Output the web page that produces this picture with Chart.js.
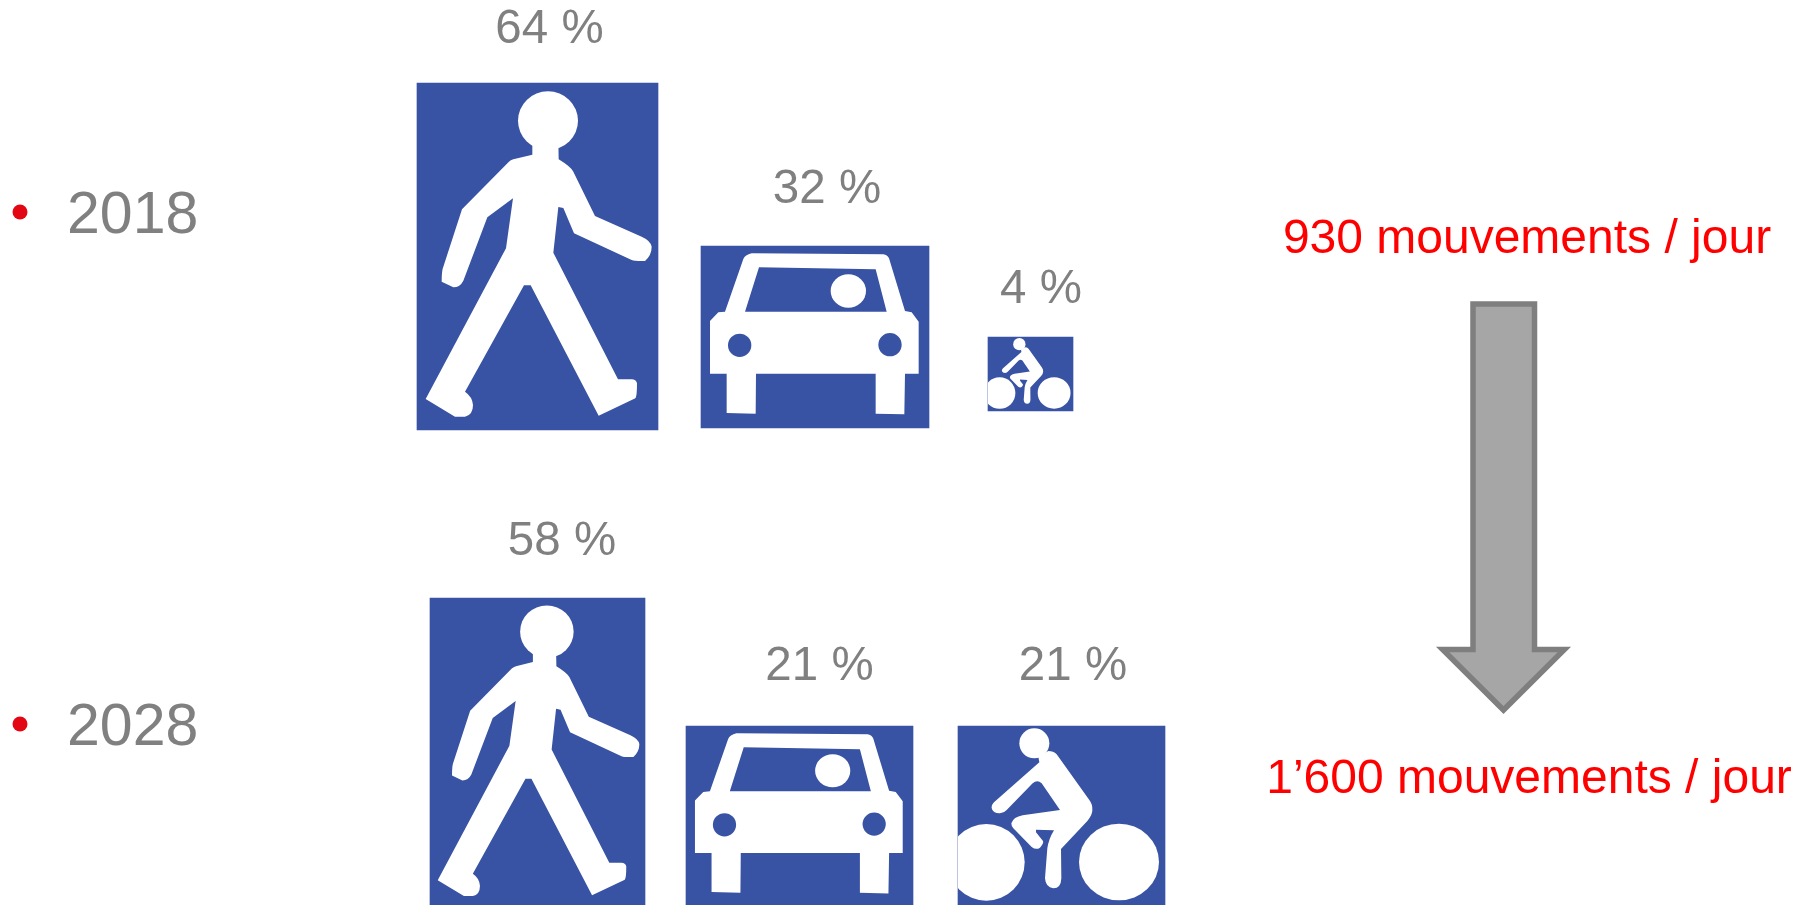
<!DOCTYPE html>
<html lang="fr">
<head>
<meta charset="utf-8">
<title>Mouvements par jour 2018 / 2028</title>
<script src="https://cdn.jsdelivr.net/npm/chart.js@4"></script>
<style>
  html, body { margin: 0; padding: 0; background: #fff; overflow: hidden; }
  canvas { display: block; }
</style>
</head>
<body>
<canvas id="chart" width="1810" height="905"></canvas>
<script>
/* Données */
const years = ['2018', '2028'];
const modes = ['walker', 'car', 'bike'];
const shares2018 = [64, 32, 4];
const shares2028 = [58, 21, 21];
const movements = ['930 mouvements / jour', '1\u2019600 mouvements / jour'];

/* Panneaux, en unités d'axe (repère 1810 x 905) */
const signCentre2018 = [537.5, 815, 1030.5];
const signCentre2028 = [537.5, 799.5, 1061.5];
const signWidth2018 = [241, 228, 85];
const signWidth2028 = [215, 227, 207];
const signTop2018 = [83, 246, 337];
const signTop2028 = [598, 726, 726];
const signBottom2018 = [430, 428, 411];
const signBottom2028 = [908, 907, 906];

/* Emplacement des textes */
const shareLabelX2018 = [549.5, 827, 1041];
const shareLabelX2028 = [562, 819.5, 1073];
const shareBaseline2018 = [43, 203, 303];
const shareBaseline2028 = [555, 680, 680];
const yearLabelX = 67;
const yearBaseline = [233, 745];
const bulletX = 20;
const bulletY = [212, 724];
const movementX = [1527, 1529];
const movementBaseline = [253, 793];
const arrowX = [1503.5, 1534.5, 1534.5, 1564.4, 1503.5, 1442.6, 1473, 1473, 1503.5];
const arrowY = [304, 304, 649.4, 649.4, 710, 649.4, 649.4, 304, 304];

const BLUE = '#3953A4';
const GREY_TEXT = '#808080';
const RED_TEXT = '#FF0000';
const RED_BULLET = '#E30613';

/* Pictogrammes : tracés SVG, dans le repère du panneau [x, y, largeur, hauteur] */
const icons = {
  walker: {
    box: [51, 39, 723, 1041],
    shapes: [
      { d: 'M354 152 A90 88 0 1 1 534 152 A90 88 0 1 1 354 152 Z' },
      { d: 'M397 215 L397 254 L340 268 Q332 270 326 276 L186 418 L130 590 Q125 600 125 635 L160 652 Q180 652 190 632 L262 442 L339 385 L318 535 L77 987 L165 1040 L195 1040 Q219 1035 219 1005 Q217 980 195 965 L372 646 L392 646 L596 1037 L706 985 Q711 980 711 940 Q708 928 695 928 L654 928 L460 548 L475 411 L490 414 L522 490 L695 570 Q705 574 735 573 Q755 555 755 530 Q752 512 725 500 L585 438 L520 305 Q512 290 476 268 L475 215 Z' }
    ]
  },
  car: {
    box: [33, 33, 684, 546],
    shapes: [
      {
        d: 'M60 258 L85 232 L105 230 L160 72 Q165 60 185 55 L580 58 Q592 60 597 70 L645 228 L665 232 L686 260 L686 416 L645 416 L643 538 L557 536 L557 416 L198 416 L197 536 L110 534 L110 416 L60 416 Z' +
           ' M207 97 L557 103 L590 230 L165 230 Z' +
           ' M114 331 A35 35 0 1 0 184 331 A35 35 0 1 0 114 331 Z' +
           ' M565 329 A35 35 0 1 0 635 329 A35 35 0 1 0 565 329 Z'
      },
      { d: 'M422 168 A53 50 0 1 0 528 168 A53 50 0 1 0 422 168 Z' }
    ]
  },
  bike: {
    box: [24, 33, 621, 540],
    shapes: [
      { d: 'M208 85 A45 45 0 1 1 298 85 A45 45 0 1 1 208 85 Z' },
      { d: 'M265 125 L268 142 L132 262 Q122 272 126 283 Q132 296 150 295 Q162 294 170 285 L248 205 Q262 192 275 205 L330 285 L218 301 Q190 306 184 325 Q184 335 190 340 L245 396 Q258 406 270 398 Q282 385 279 378 L258 352 L258 344 L312 346 Q296 372 292 400 L285 490 Q287 518 310 520 Q333 520 334 490 L333 402 L412 318 Q428 298 427 285 Q428 268 418 255 L320 118 Q310 108 295 108 Z' },
      { d: 'M-6 442 A115 115 0 1 1 224 442 A115 115 0 1 1 -6 442 Z' },
      { d: 'M387 441 A120 115 0 1 1 627 441 A120 115 0 1 1 387 441 Z' }
    ]
  }
};

/* Un jeu de données par panneau : chaque barre a sa propre largeur */
function signDatasets(centres, widths, tops, bottoms) {
  return modes.map((mode, i) => ({
    type: 'bar',
    label: mode,
    icon: mode,
    data: [{ x: centres[i], y: [tops[i], bottoms[i]] }],
    backgroundColor: BLUE,
    borderWidth: 0,
    barThickness: widths[i],
    grouped: false
  }));
}

const signIconPlugin = {
  id: 'signIcons',
  afterDatasetsDraw(chart) {
    const ctx = chart.ctx;
    chart.data.datasets.forEach((ds, index) => {
      if (!ds.icon) return;
      const bar = chart.getDatasetMeta(index).data[0];
      const props = bar.getProps(['x', 'y', 'base', 'width']);
      const top = Math.min(props.y, props.base);
      const height = Math.abs(props.base - props.y);
      const left = props.x - props.width / 2;
      const icon = icons[ds.icon];

      ctx.save();
      ctx.beginPath();
      ctx.rect(left, top, props.width, height);
      ctx.clip();
      ctx.filter = 'blur(0.6px)';
      ctx.translate(left, top);
      ctx.scale(props.width / icon.box[2], height / icon.box[3]);
      ctx.translate(-icon.box[0], -icon.box[1]);
      ctx.fillStyle = '#FFFFFF';
      icon.shapes.forEach(shape => ctx.fill(new Path2D(shape.d), 'evenodd'));
      ctx.restore();
    });
  }
};

const textLabelPlugin = {
  id: 'textLabels',
  afterDraw(chart) {
    const ctx = chart.ctx;
    const xs = chart.scales.x;
    const ys = chart.scales.y;
    const put = (text, x, y, size, color, align) => {
      ctx.font = size + "px 'Liberation Sans', Arial, sans-serif";
      ctx.fillStyle = color;
      ctx.textAlign = align;
      ctx.textBaseline = 'alphabetic';
      ctx.fillText(text, xs.getPixelForValue(x), ys.getPixelForValue(y));
    };

    ctx.save();
    years.forEach((year, i) => put(year, yearLabelX, yearBaseline[i], 59, GREY_TEXT, 'left'));
    shares2018.forEach((v, i) => put(v + ' %', shareLabelX2018[i], shareBaseline2018[i], 47.5, GREY_TEXT, 'center'));
    shares2028.forEach((v, i) => put(v + ' %', shareLabelX2028[i], shareBaseline2028[i], 47.5, GREY_TEXT, 'center'));
    movements.forEach((text, i) => put(text, movementX[i], movementBaseline[i], 48, RED_TEXT, 'center'));
    ctx.restore();
  }
};

new Chart(document.getElementById('chart'), {
  data: {
    datasets: [
      ...signDatasets(signCentre2018, signWidth2018, signTop2018, signBottom2018),
      ...signDatasets(signCentre2028, signWidth2028, signTop2028, signBottom2028),
      {
        type: 'scatter',
        label: 'puces',
        data: bulletY.map(y => ({ x: bulletX, y: y })),
        pointStyle: 'circle',
        pointRadius: 7.5,
        pointBackgroundColor: RED_BULLET,
        pointBorderWidth: 0
      },
      {
        type: 'line',
        label: 'flèche',
        data: arrowX.map((x, i) => ({ x: x, y: arrowY[i] })),
        fill: 'shape',
        backgroundColor: '#A6A6A6',
        borderColor: '#7F7F7F',
        borderWidth: 5.5,
        borderJoinStyle: 'miter',
        pointRadius: 0,
        tension: 0
      }
    ]
  },
  options: {
    responsive: false,
    animation: false,
    layout: { padding: 0, autoPadding: false },
    plugins: {
      legend: { display: false },
      tooltip: { enabled: false }
    },
    scales: {
      x: { type: 'linear', display: false, offset: false, min: 0, max: 1810 },
      y: { type: 'linear', display: false, reverse: true, min: 0, max: 905 }
    }
  },
  plugins: [signIconPlugin, textLabelPlugin]
});
</script>
</body>
</html>
